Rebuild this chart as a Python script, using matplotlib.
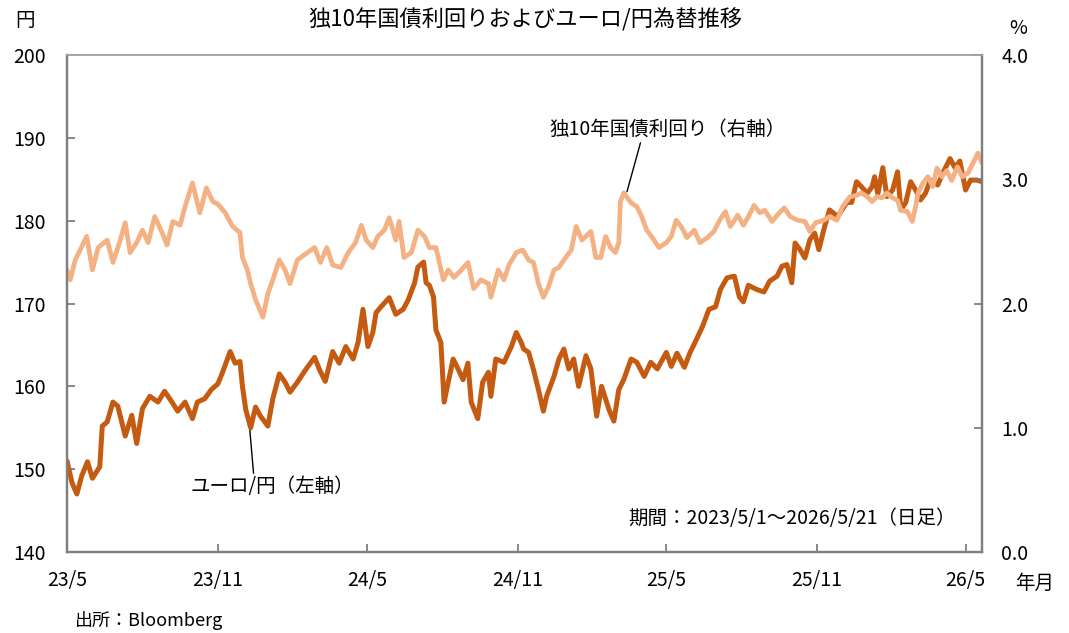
import matplotlib
matplotlib.use("Agg")
import matplotlib.pyplot as plt
import pandas as pd

plt.rcParams['font.family'] = ['Noto Sans CJK JP', 'DejaVu Sans']

# EUR/JPY (left axis, yen)
eurjpy_dates = [
    "2023-05-01", "2023-05-07", "2023-05-13", "2023-05-19", "2023-05-26", "2023-06-01", "2023-06-10",
    "2023-06-13", "2023-06-19", "2023-06-26", "2023-07-02", "2023-07-11", "2023-07-19", "2023-07-25",
    "2023-08-01", "2023-08-10", "2023-08-20", "2023-08-28", "2023-09-06", "2023-09-13", "2023-09-22",
    "2023-10-01", "2023-10-07", "2023-10-16", "2023-10-24", "2023-11-01", "2023-11-06", "2023-11-16",
    "2023-11-22", "2023-11-28", "2023-12-01", "2023-12-05", "2023-12-11", "2023-12-17", "2023-12-23",
    "2024-01-01", "2024-01-07", "2024-01-15", "2024-01-22", "2024-01-28", "2024-02-06", "2024-02-16",
    "2024-02-27", "2024-03-04", "2024-03-11", "2024-03-20", "2024-03-28", "2024-04-05", "2024-04-14",
    "2024-04-20", "2024-04-26", "2024-05-02", "2024-05-08", "2024-05-12", "2024-05-18", "2024-05-28",
    "2024-06-05", "2024-06-14", "2024-06-20", "2024-06-28", "2024-07-02", "2024-07-09", "2024-07-12",
    "2024-07-16", "2024-07-21", "2024-07-24", "2024-07-30", "2024-08-03", "2024-08-08", "2024-08-14",
    "2024-08-20", "2024-08-26", "2024-09-01", "2024-09-05", "2024-09-13", "2024-09-19", "2024-09-26",
    "2024-09-29", "2024-10-05", "2024-10-15", "2024-10-24", "2024-10-30", "2024-11-05", "2024-11-08",
    "2024-11-14", "2024-11-20", "2024-11-26", "2024-12-02", "2024-12-06", "2024-12-15", "2024-12-21",
    "2024-12-27", "2025-01-02", "2025-01-08", "2025-01-14", "2025-01-23", "2025-01-29", "2025-02-05",
    "2025-02-11", "2025-02-20", "2025-02-26", "2025-03-04", "2025-03-10", "2025-03-19", "2025-03-26",
    "2025-04-04", "2025-04-12", "2025-04-20", "2025-05-01", "2025-05-07", "2025-05-14", "2025-05-23",
    "2025-05-30", "2025-06-05", "2025-06-14", "2025-06-22", "2025-06-30", "2025-07-06", "2025-07-14",
    "2025-07-23", "2025-07-29", "2025-08-03", "2025-08-09", "2025-08-19", "2025-08-28", "2025-09-04",
    "2025-09-13", "2025-09-19", "2025-09-25", "2025-10-01", "2025-10-05", "2025-10-11", "2025-10-17",
    "2025-10-23", "2025-10-29", "2025-11-03", "2025-11-09", "2025-11-16", "2025-11-26", "2025-12-07",
    "2025-12-13", "2025-12-19", "2025-12-25", "2026-01-01", "2026-01-07", "2026-01-10", "2026-01-14",
    "2026-01-20", "2026-01-25", "2026-02-01", "2026-02-07", "2026-02-11", "2026-02-17", "2026-02-23",
    "2026-03-01", "2026-03-07", "2026-03-13", "2026-03-19", "2026-03-28", "2026-04-03", "2026-04-12",
    "2026-04-18", "2026-04-24", "2026-05-01", "2026-05-07", "2026-05-15", "2026-05-21",
]
eurjpy_values = [
    151.0, 148.4, 147.0, 149.2, 150.9, 148.9, 150.3,
    155.2, 155.7, 158.1, 157.6, 154.0, 156.5, 153.1,
    157.3, 158.8, 158.1, 159.4, 158.1, 157.0, 158.1,
    156.1, 158.1, 158.5, 159.6, 160.3, 161.5, 164.2,
    162.8, 163.0, 160.0, 157.2, 155.0, 157.5, 156.4,
    155.2, 158.5, 161.5, 160.5, 159.3, 160.5, 162.0,
    163.5, 162.0, 160.6, 164.2, 162.8, 164.8, 163.3,
    165.3, 169.3, 164.8, 166.5, 168.9, 169.6, 170.7,
    168.7, 169.3, 170.4, 172.5, 174.4, 175.0, 172.5,
    172.2, 170.8, 166.8, 165.3, 158.1, 160.5, 163.3,
    162.1, 160.8, 162.8, 158.1, 156.1, 160.5, 161.7,
    158.8, 163.3, 162.9, 164.8, 166.5, 165.3, 164.5,
    164.1, 162.0, 159.6, 157.0, 158.8, 161.2, 163.3,
    164.5, 162.1, 163.3, 160.0, 163.7, 162.1, 156.4,
    160.0, 157.2, 155.8, 159.6, 160.8, 163.3, 162.9,
    161.2, 162.9, 162.1, 164.1, 162.4, 164.0, 162.3,
    164.1, 165.3, 167.2, 169.3, 169.6, 171.7, 173.1,
    173.3, 170.8, 170.2, 172.2, 171.7, 171.4, 172.7,
    173.3, 174.5, 174.7, 172.5, 177.3, 176.5, 175.5,
    177.7, 178.5, 176.5, 178.9, 181.3, 180.5, 182.2,
    182.2, 184.7, 184.1, 183.3, 184.1, 185.3, 183.2,
    186.4, 182.9, 183.7, 185.9, 181.3, 182.2, 184.7,
    183.7, 182.5, 183.3, 184.9, 184.3, 185.7, 187.5,
    186.4, 187.2, 183.7, 184.9, 184.9, 184.7,
]

# German 10y Bund yield (right axis, %)
bund_dates = [
    "2023-05-01", "2023-05-05", "2023-05-11", "2023-05-17", "2023-05-25", "2023-06-01", "2023-06-08",
    "2023-06-19", "2023-06-26", "2023-07-04", "2023-07-11", "2023-07-17", "2023-07-25", "2023-08-01",
    "2023-08-08", "2023-08-16", "2023-08-25", "2023-08-31", "2023-09-07", "2023-09-16", "2023-09-22",
    "2023-10-01", "2023-10-10", "2023-10-18", "2023-10-26", "2023-11-01", "2023-11-10", "2023-11-19",
    "2023-11-28", "2023-12-01", "2023-12-07", "2023-12-11", "2023-12-17", "2023-12-26", "2024-01-01",
    "2024-01-07", "2024-01-15", "2024-01-22", "2024-01-28", "2024-02-06", "2024-02-14", "2024-02-27",
    "2024-03-05", "2024-03-13", "2024-03-20", "2024-03-30", "2024-04-08", "2024-04-17", "2024-04-24",
    "2024-04-30", "2024-05-08", "2024-05-14", "2024-05-22", "2024-05-28", "2024-06-05", "2024-06-09",
    "2024-06-15", "2024-06-24", "2024-07-02", "2024-07-10", "2024-07-16", "2024-07-24", "2024-08-02",
    "2024-08-08", "2024-08-15", "2024-08-24", "2024-09-01", "2024-09-08", "2024-09-17", "2024-09-26",
    "2024-09-29", "2024-10-08", "2024-10-15", "2024-10-21", "2024-10-30", "2024-11-07", "2024-11-14",
    "2024-11-20", "2024-11-26", "2024-12-02", "2024-12-08", "2024-12-15", "2024-12-21", "2024-12-27",
    "2025-01-05", "2025-01-11", "2025-01-18", "2025-01-29", "2025-02-04", "2025-02-10", "2025-02-16",
    "2025-02-22", "2025-02-28", "2025-03-04", "2025-03-06", "2025-03-10", "2025-03-19", "2025-03-26",
    "2025-04-01", "2025-04-07", "2025-04-13", "2025-04-22", "2025-05-01", "2025-05-07", "2025-05-13",
    "2025-05-20", "2025-05-26", "2025-06-04", "2025-06-11", "2025-06-20", "2025-06-28", "2025-07-05",
    "2025-07-12", "2025-07-18", "2025-07-27", "2025-08-03", "2025-08-10", "2025-08-16", "2025-08-23",
    "2025-08-29", "2025-09-07", "2025-09-13", "2025-09-22", "2025-09-29", "2025-10-08", "2025-10-17",
    "2025-10-23", "2025-10-30", "2025-11-09", "2025-11-16", "2025-11-25", "2025-12-02", "2025-12-11",
    "2025-12-19", "2025-12-25", "2026-01-01", "2026-01-07", "2026-01-13", "2026-01-19", "2026-01-25",
    "2026-02-01", "2026-02-07", "2026-02-11", "2026-02-19", "2026-02-25", "2026-03-01", "2026-03-04",
    "2026-03-10", "2026-03-16", "2026-03-22", "2026-03-27", "2026-04-02", "2026-04-08", "2026-04-14",
    "2026-04-21", "2026-04-27", "2026-05-04", "2026-05-10", "2026-05-16", "2026-05-21",
]
bund_values = [
    2.27, 2.19, 2.35, 2.43, 2.54, 2.27, 2.45,
    2.51, 2.33, 2.49, 2.65, 2.41, 2.49, 2.59,
    2.49, 2.70, 2.57, 2.47, 2.66, 2.63, 2.78,
    2.97, 2.73, 2.93, 2.82, 2.80, 2.73, 2.62,
    2.57, 2.37, 2.27, 2.16, 2.03, 1.89, 2.08,
    2.19, 2.35, 2.27, 2.16, 2.35, 2.39, 2.45,
    2.33, 2.45, 2.31, 2.29, 2.41, 2.49, 2.63,
    2.51, 2.45, 2.54, 2.59, 2.69, 2.51, 2.66,
    2.37, 2.41, 2.59, 2.54, 2.45, 2.45, 2.19,
    2.27, 2.21, 2.27, 2.33, 2.12, 2.19, 2.16,
    2.05, 2.27, 2.19, 2.31, 2.41, 2.43, 2.35,
    2.33, 2.16, 2.05, 2.13, 2.27, 2.29, 2.35,
    2.43, 2.62, 2.51, 2.58, 2.37, 2.37, 2.54,
    2.45, 2.41, 2.49, 2.82, 2.89, 2.81, 2.78,
    2.70, 2.59, 2.54, 2.45, 2.49, 2.54, 2.67,
    2.61, 2.53, 2.59, 2.49, 2.53, 2.58, 2.67,
    2.74, 2.62, 2.71, 2.63, 2.71, 2.79, 2.73,
    2.75, 2.66, 2.71, 2.77, 2.70, 2.67, 2.66,
    2.58, 2.65, 2.67, 2.70, 2.67, 2.78, 2.86,
    2.87, 2.89, 2.86, 2.82, 2.86, 2.85, 2.89,
    2.85, 2.83, 2.75, 2.74, 2.66, 2.78, 2.89,
    2.97, 3.02, 2.94, 3.09, 3.02, 3.07, 2.99,
    3.10, 3.02, 3.05, 3.13, 3.21, 3.13,
]

x_tick_dates = ["2023-05-01", "2023-11-01", "2024-05-01", "2024-11-01",
                "2025-05-01", "2025-11-01", "2026-05-01"]
x_tick_labels = ["23/5", "23/11", "24/5", "24/11", "25/5", "25/11", "26/5"]
left_ticks = [140, 150, 160, 170, 180, 190, 200]
right_ticks = [0.0, 1.0, 2.0, 3.0, 4.0]

DARK = "#C55A11"
LIGHT = "#F4B183"
SPINE = "#7F7F7F"

fig = plt.figure(figsize=(10.69, 6.33), dpi=100)
ax = fig.add_axes([67 / 1069, (633 - 552) / 633, (982 - 67) / 1069, (552 - 55) / 633])
ax2 = ax.twinx()

ax.plot(pd.to_datetime(eurjpy_dates), eurjpy_values, color=DARK, lw=3.6,
        solid_joinstyle='round', solid_capstyle='round')
ax2.plot(pd.to_datetime(bund_dates), bund_values, color=LIGHT, lw=3.4,
         solid_joinstyle='round', solid_capstyle='round')

ax.set_xlim(pd.Timestamp("2023-05-01"), pd.Timestamp("2026-05-21"))
ax.set_ylim(140, 200)
ax2.set_ylim(0, 4)
ax.set_yticks(left_ticks)
ax.set_yticklabels([str(v) for v in left_ticks])
ax2.set_yticks(right_ticks)
ax2.set_yticklabels([f"{v:.1f}" for v in right_ticks])
ax.set_xticks(pd.to_datetime(x_tick_dates))
ax.set_xticklabels(x_tick_labels)

for a in (ax, ax2):
    for s in a.spines.values():
        s.set_color(SPINE)
        s.set_linewidth(1.6)
    a.spines['top'].set_color("#A6A6A6")
    a.spines['top'].set_linewidth(1.2)

ax.tick_params(axis='y', direction='in', length=6, width=1.3, color=SPINE,
               labelsize=14, pad=15)
ax.tick_params(axis='x', direction='in', length=6, width=1.3, color=SPINE,
               labelsize=14, pad=13)
ax2.tick_params(axis='y', direction='in', length=6, width=1.3, color=SPINE,
                labelsize=14, pad=14)

fig.text(25 / 1069, 1 - 20 / 633, "円", fontsize=14, ha='center', va='center')
fig.text(1018 / 1069, 1 - 28 / 633, "%", fontsize=14, ha='center', va='center')
fig.text(1035 / 1069, 1 - 583 / 633, "年月", fontsize=14, ha='center', va='center')
fig.text(525 / 1069, 1 - 20 / 633, "独10年国債利回りおよびユーロ/円為替推移",
         fontsize=16, ha='center', va='center')
fig.text(75 / 1069, 1 - 621 / 633, "出所：Bloomberg", fontsize=13, ha='left', va='center')

ax.text(0.613, 0.068, "期間：2023/5/1～2026/5/21（日足）", transform=ax.transAxes,
        fontsize=14, ha='left', va='center')

# annotations with leader lines
ax2.annotate("独10年国債利回り（右軸）", xy=(pd.Timestamp("2025-03-14"), 2.90),
             xytext=(pd.Timestamp("2024-12-09"), 3.40), fontsize=14,
             ha='left', va='center',
             arrowprops=dict(arrowstyle='-', color='black', lw=1.0,
                             shrinkA=0, shrinkB=0, relpos=(0.39, 0.0)))
ax.annotate("ユーロ/円（左軸）", xy=(pd.Timestamp("2023-12-10"), 154.7),
            xytext=(pd.Timestamp("2023-09-28"), 147.9), fontsize=14,
            ha='left', va='center',
            arrowprops=dict(arrowstyle='-', color='black', lw=1.0,
                            shrinkA=0, shrinkB=0, relpos=(0.39, 1.0)))

fig.savefig("out.png", dpi=100)
